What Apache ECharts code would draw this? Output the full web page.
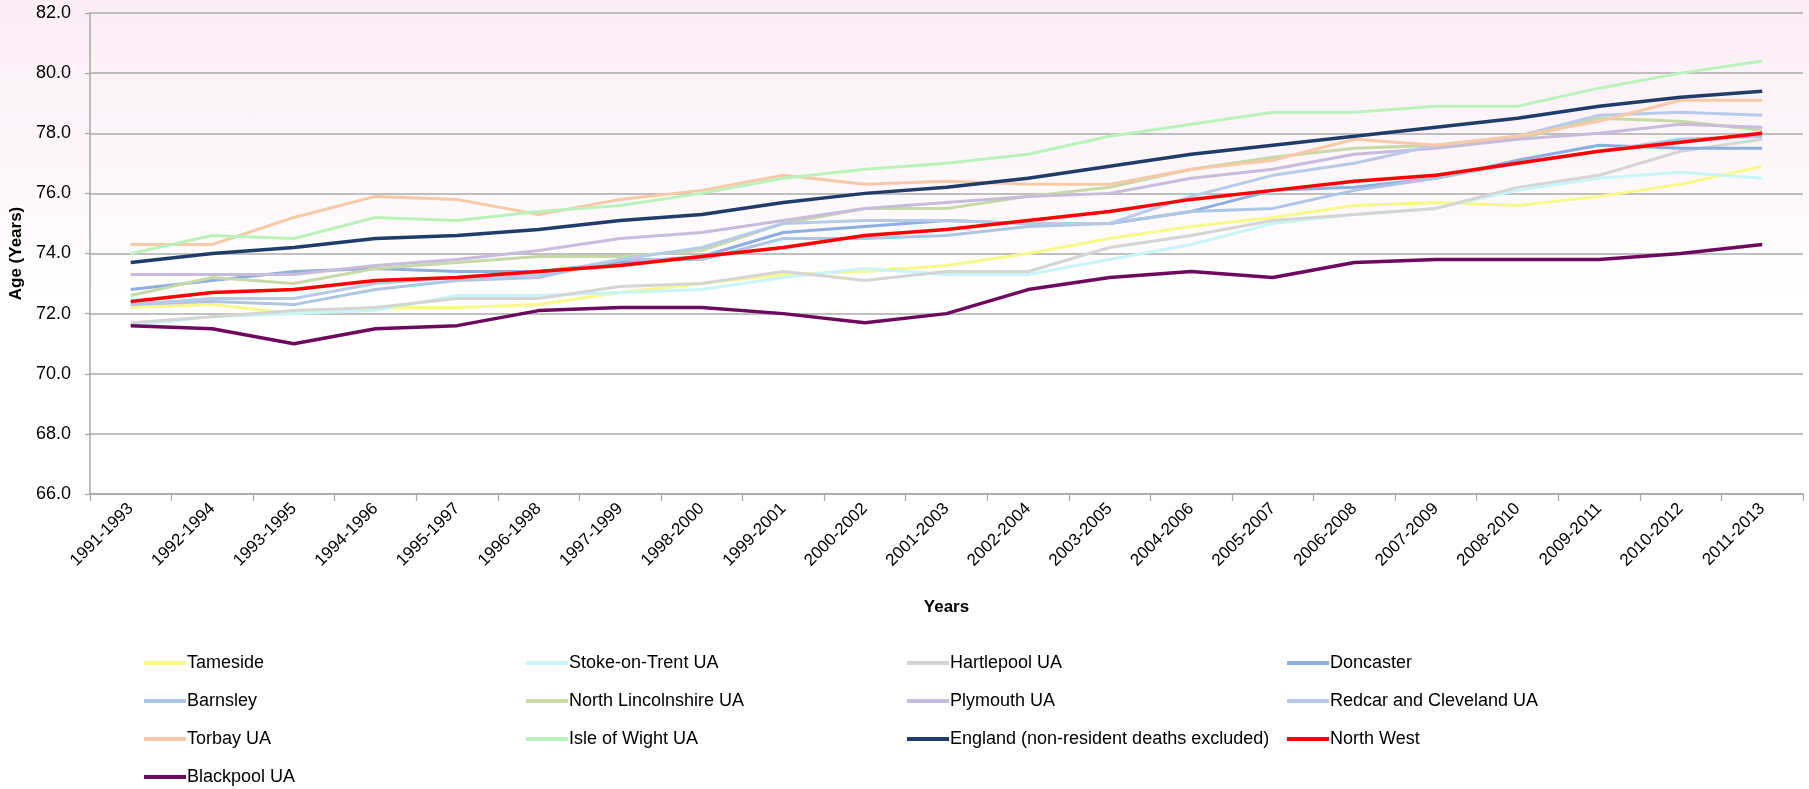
<!DOCTYPE html>
<html>
<head>
<meta charset="utf-8">
<script src="https://cdn.jsdelivr.net/npm/echarts@6/dist/echarts.min.js"></script>
<style>
  html, body { margin: 0; padding: 0; }
  body {
    width: 1809px; height: 789px; overflow: hidden;
    background: linear-gradient(to bottom, #FBEEF5 0px, #FDF7FA 170px, #FFFFFF 300px, #FFFFFF 789px);
  }
  #chart { width: 1809px; height: 789px; }
</style>
</head>
<body>
<div id="chart"></div>
<script>
// Three-year periods on the category axis
const periods = [
  '1991-1993', '1992-1994', '1993-1995', '1994-1996', '1995-1997', '1996-1998', '1997-1999',
  '1998-2000', '1999-2001', '2000-2002', '2001-2003', '2002-2004', '2003-2005', '2004-2006',
  '2005-2007', '2006-2008', '2007-2009', '2008-2010', '2009-2011', '2010-2012', '2011-2013'
];

// Life expectancy (years) per area
const tameside      = [72.2, 72.3, 72.0, 72.2, 72.2, 72.3, 72.7, 73.0, 73.3, 73.4, 73.6, 74.0, 74.5, 74.9, 75.2, 75.6, 75.7, 75.6, 75.9, 76.3, 76.9];
const stoke         = [71.6, 71.9, 72.0, 72.1, 72.6, 72.6, 72.7, 72.8, 73.2, 73.5, 73.3, 73.3, 73.8, 74.3, 75.0, 75.3, 75.5, 76.1, 76.5, 76.7, 76.5];
const hartlepool    = [71.7, 71.9, 72.1, 72.2, 72.5, 72.5, 72.9, 73.0, 73.4, 73.1, 73.4, 73.4, 74.2, 74.6, 75.1, 75.3, 75.5, 76.2, 76.6, 77.4, 77.8];
const doncaster     = [72.8, 73.1, 73.4, 73.5, 73.4, 73.4, 73.7, 73.9, 74.7, 74.9, 75.1, 75.0, 75.0, 75.4, 76.1, 76.2, 76.5, 77.1, 77.6, 77.5, 77.5];
const barnsley      = [72.3, 72.4, 72.3, 72.8, 73.1, 73.2, 73.8, 73.8, 74.5, 74.5, 74.6, 74.9, 75.0, 75.4, 75.5, 76.1, 76.5, 77.0, 77.4, 77.8, 77.9];
const northLincs    = [72.6, 73.2, 73.0, 73.5, 73.7, 73.9, 73.9, 74.1, 75.0, 75.5, 75.5, 75.9, 76.2, 76.8, 77.2, 77.5, 77.6, 77.8, 78.5, 78.4, 78.1];
const plymouth      = [73.3, 73.3, 73.3, 73.6, 73.8, 74.1, 74.5, 74.7, 75.1, 75.5, 75.7, 75.9, 76.0, 76.5, 76.8, 77.3, 77.5, 77.8, 78.0, 78.3, 78.2];
const redcar        = [72.3, 72.5, 72.5, 73.0, 73.2, 73.3, 73.8, 74.2, 75.0, 75.1, 75.1, 75.0, 75.0, 75.9, 76.6, 77.0, 77.6, 77.9, 78.6, 78.7, 78.6];
const torbay        = [74.3, 74.3, 75.2, 75.9, 75.8, 75.3, 75.8, 76.1, 76.6, 76.3, 76.4, 76.3, 76.3, 76.8, 77.1, 77.8, 77.6, 77.9, 78.4, 79.1, 79.1];
const isleOfWight   = [74.0, 74.6, 74.5, 75.2, 75.1, 75.4, 75.6, 76.0, 76.5, 76.8, 77.0, 77.3, 77.9, 78.3, 78.7, 78.7, 78.9, 78.9, 79.5, 80.0, 80.4];
const england       = [73.7, 74.0, 74.2, 74.5, 74.6, 74.8, 75.1, 75.3, 75.7, 76.0, 76.2, 76.5, 76.9, 77.3, 77.6, 77.9, 78.2, 78.5, 78.9, 79.2, 79.4];
const northWest     = [72.4, 72.7, 72.8, 73.1, 73.2, 73.4, 73.6, 73.9, 74.2, 74.6, 74.8, 75.1, 75.4, 75.8, 76.1, 76.4, 76.6, 77.0, 77.4, 77.7, 78.0];
const blackpool     = [71.6, 71.5, 71.0, 71.5, 71.6, 72.1, 72.2, 72.2, 72.0, 71.7, 72.0, 72.8, 73.2, 73.4, 73.2, 73.7, 73.8, 73.8, 73.8, 74.0, 74.3];

// Value axis ticks
const yMin = 66, yMax = 82, yStep = 2;

const FONT = '"Liberation Sans", Arial, sans-serif';

// Name, values, colour, line width
const areas = [
  ['Tameside', tameside, '#F9F98A', 3],
  ['Stoke-on-Trent UA', stoke, '#C8F5F7', 3],
  ['Hartlepool UA', hartlepool, '#D5D5D5', 3],
  ['Doncaster', doncaster, '#8DAEE0', 3],
  ['Barnsley', barnsley, '#AEC5E6', 3],
  ['North Lincolnshire UA', northLincs, '#C6D9A6', 3],
  ['Plymouth UA', plymouth, '#C8BBDB', 3],
  ['Redcar and Cleveland UA', redcar, '#B7CBE8', 3],
  ['Torbay UA', torbay, '#F8C9A6', 3],
  ['Isle of Wight UA', isleOfWight, '#BAF3BA', 3],
  ['England (non-resident deaths excluded)', england, '#1F3C6A', 3.5],
  ['North West', northWest, '#FF0000', 3.5],
  ['Blackpool UA', blackpool, '#6E0A5E', 3.5]
];

// Legend laid out in four fixed columns, filled row by row
const legendColumns = [
  ['Tameside', 'Barnsley', 'Torbay UA', 'Blackpool UA'],
  ['Stoke-on-Trent UA', 'North Lincolnshire UA', 'Isle of Wight UA'],
  ['Hartlepool UA', 'Plymouth UA', 'England (non-resident deaths excluded)'],
  ['Doncaster', 'Redcar and Cleveland UA', 'North West']
];
const legendLeft = [144, 526, 907, 1287];

const chart = echarts.init(document.getElementById('chart'), null, { renderer: 'canvas' });

chart.setOption({
  animation: false,
  backgroundColor: 'transparent',
  grid: { left: 89, right: 6, top: 13, bottom: 295, containLabel: false },
  xAxis: {
    type: 'category',
    data: periods,
    boundaryGap: true,
    name: 'Years',
    nameLocation: 'middle',
    nameGap: 105,
    nameTextStyle: { fontFamily: FONT, fontSize: 17, fontWeight: 'bold', color: '#000' },
    axisLine: { lineStyle: { color: '#A6A6A6', width: 1.5 } },
    axisTick: { show: true, alignWithLabel: false, length: 7, lineStyle: { color: '#A6A6A6', width: 1.2 } },
    axisLabel: {
      rotate: 45, margin: 12, interval: 0,
      fontFamily: FONT, fontSize: 17, color: '#000'
    },
    splitLine: { show: false }
  },
  yAxis: {
    type: 'value',
    min: yMin, max: yMax, interval: yStep,
    name: 'Age (Years)',
    nameLocation: 'middle',
    nameRotate: 90,
    nameGap: 60,
    nameTextStyle: { fontFamily: FONT, fontSize: 17, fontWeight: 'bold', color: '#000' },
    axisLine: { show: true, lineStyle: { color: '#A6A6A6', width: 1.5 } },
    axisTick: { show: true, length: 5, lineStyle: { color: '#A6A6A6', width: 1.2 } },
    axisLabel: {
      margin: 19,
      fontFamily: FONT, fontSize: 18, color: '#000',
      formatter: v => v.toFixed(1)
    },
    splitLine: { show: true, lineStyle: { color: '#ABABAB', width: 1.5 } }
  },
  legend: legendColumns.map((names, i) => ({
    data: names,
    orient: 'vertical',
    left: legendLeft[i],
    top: 653,
    padding: 0,
    itemGap: 18,
    itemWidth: 42,
    itemHeight: 4,
    icon: 'rect',
    selectedMode: false,
    textStyle: { fontFamily: FONT, fontSize: 18, color: '#000', lineHeight: 20, padding: [0, 0, 0, -4] }
  })),
  series: areas.map(([name, values, color, width]) => ({
    name,
    type: 'line',
    data: values,
    color,
    symbol: 'none',
    lineStyle: { color, width },
    emphasis: { disabled: true }
  }))
});
</script>
</body>
</html>
